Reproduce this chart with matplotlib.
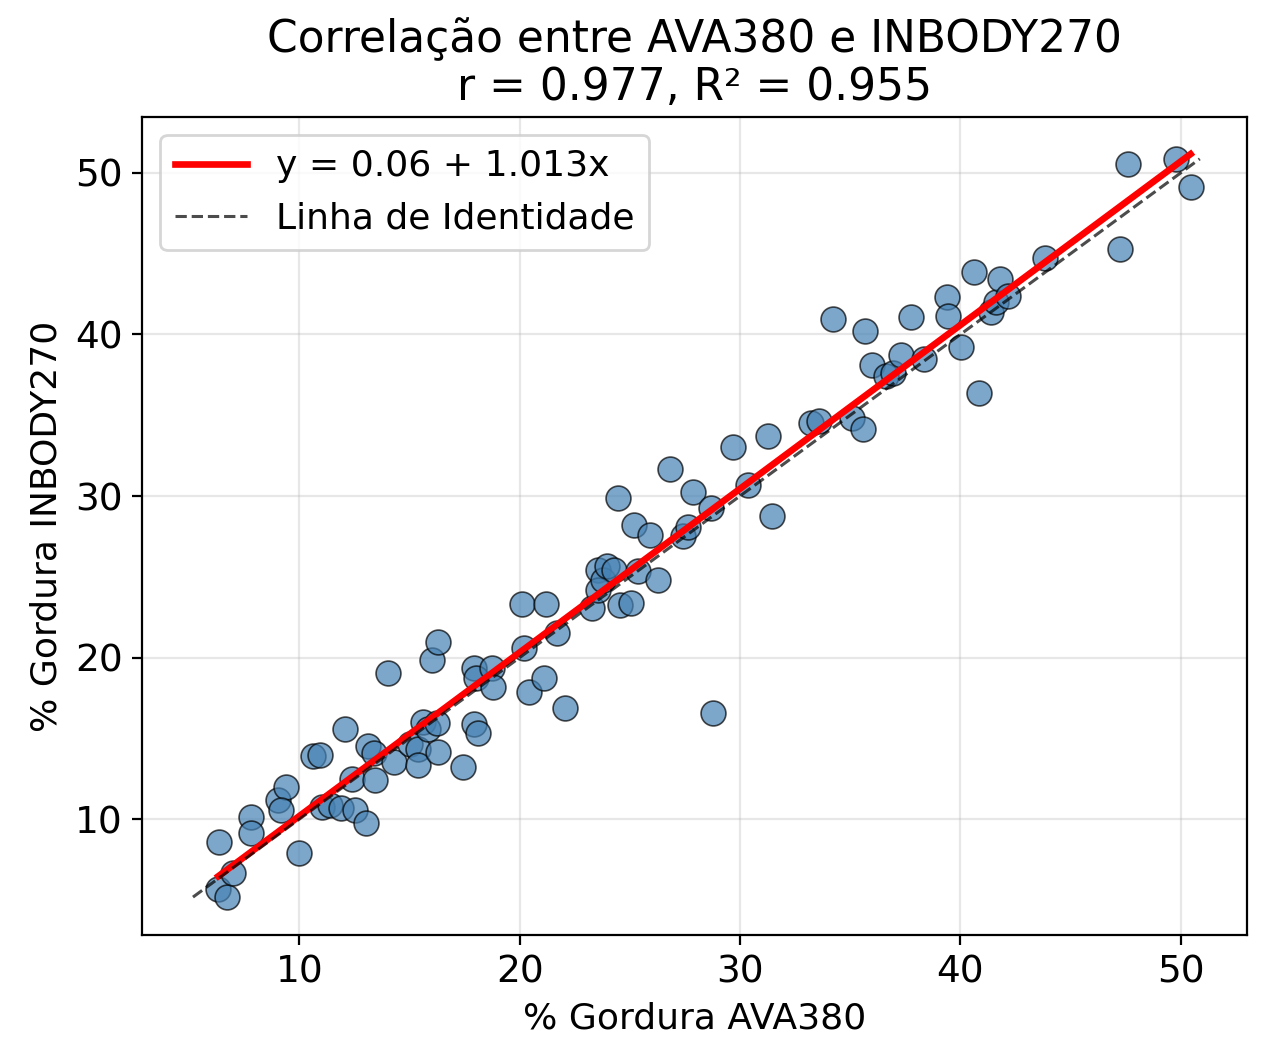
import numpy as np
import matplotlib
matplotlib.use('Agg')
import matplotlib.pyplot as plt

# Dados (% gordura)
ava380 = [6.37, 6.32, 6.73, 7.0, 7.82, 7.82, 9.05, 9.41, 9.18, 10.0,
          10.64, 10.95, 11.04, 11.4, 11.9, 12.09, 12.4, 12.54, 13.04, 13.13,
          13.4, 13.45, 14.0, 14.31, 15.04, 15.6, 15.4, 15.4, 15.86, 16.04,
          16.26, 16.31, 16.31, 17.44, 17.94, 17.94, 18.03, 18.12, 18.76, 18.8,
          20.12, 20.21, 20.44, 21.12, 21.21, 21.71, 22.07, 23.3, 23.57, 23.57,
          23.8, 23.98, 24.3, 24.48, 24.57, 25.07, 25.21, 25.39, 25.93, 26.3,
          26.8, 27.39, 27.66, 27.88, 28.79, 28.7, 29.7, 30.38, 31.29, 31.47,
          33.24, 33.6, 34.2, 35.1, 35.56, 35.69, 36.0, 36.64, 36.96, 37.33,
          37.78, 38.37, 39.41, 39.46, 40.05, 40.6, 40.87, 41.37, 41.6, 41.78,
          42.18, 43.86, 47.27, 47.63, 49.77, 50.45]
inbody270 = [8.58, 5.67, 5.17, 6.66, 10.1, 9.13, 11.18, 11.98, 10.56, 7.9,
             13.9, 13.96, 10.74, 10.87, 10.68, 15.57, 12.48, 10.56, 9.75, 14.52,
             14.09, 12.41, 19.04, 13.53, 14.64, 16.0, 14.33, 13.34, 15.57, 19.85,
             15.95, 20.96, 14.15, 13.22, 15.88, 19.35, 18.73, 15.33, 19.35, 18.17,
             23.31, 20.59, 17.86, 18.73, 23.31, 21.52, 16.87, 23.06, 25.42, 24.18,
             24.8, 25.67, 25.42, 29.88, 23.25, 23.37, 28.2, 25.36, 27.58, 24.8,
             31.67, 27.52, 28.08, 30.25, 16.56, 29.26, 33.03, 30.68, 33.72, 28.76,
             34.52, 34.64, 40.96, 34.83, 34.15, 40.22, 38.11, 37.43, 37.62, 38.73,
             41.08, 38.48, 42.32, 41.15, 39.23, 43.87, 36.38, 41.39, 42.0, 43.44,
             42.38, 44.74, 45.3, 50.56, 50.87, 49.13]

# Coeficientes mostrados no gráfico
intercept = 0.06
slope = 1.013
r_value = 0.977
r2_value = 0.955

x = np.array(ava380)
y = np.array(inbody270)

fig = plt.figure(figsize=(6.41, 5.265), dpi=200)
ax = fig.add_axes([0.111, 0.112, 0.862, 0.777])

ax.scatter(x, y, s=80, color='steelblue', alpha=0.7,
           edgecolor='black', linewidth=0.6, zorder=3)

# Linha de regressão
x_line = np.array([x.min(), x.max()])
ax.plot(x_line, intercept + slope * x_line, color='red', linewidth=2.4,
        label=f'y = {intercept:.2f} + {slope:.3f}x', zorder=4)

# Linha de identidade
lo = min(x.min(), y.min())
hi = max(x.max(), y.max())
ax.plot([lo, hi], [lo, hi], 'k--', alpha=0.7, linewidth=1.1,
        label='Linha de Identidade', zorder=4)

ax.set_xlim(2.87, 53.03)
ax.set_ylim(2.82, 53.47)
ax.set_xticks([10, 20, 30, 40, 50])
ax.set_yticks([10, 20, 30, 40, 50])
ax.tick_params(labelsize=13.5)

ax.set_xlabel('% Gordura AVA380', fontsize=13)
ax.set_ylabel('% Gordura INBODY270', fontsize=13)
ax.set_title(f'Correlação entre AVA380 e INBODY270\nr = {r_value:.3f}, R² = {r2_value:.3f}',
             fontsize=15.8, linespacing=1.15)
ax.grid(True, alpha=0.3)
ax.legend(loc='upper left', fontsize=13)

fig.savefig('out.png', dpi=200)
